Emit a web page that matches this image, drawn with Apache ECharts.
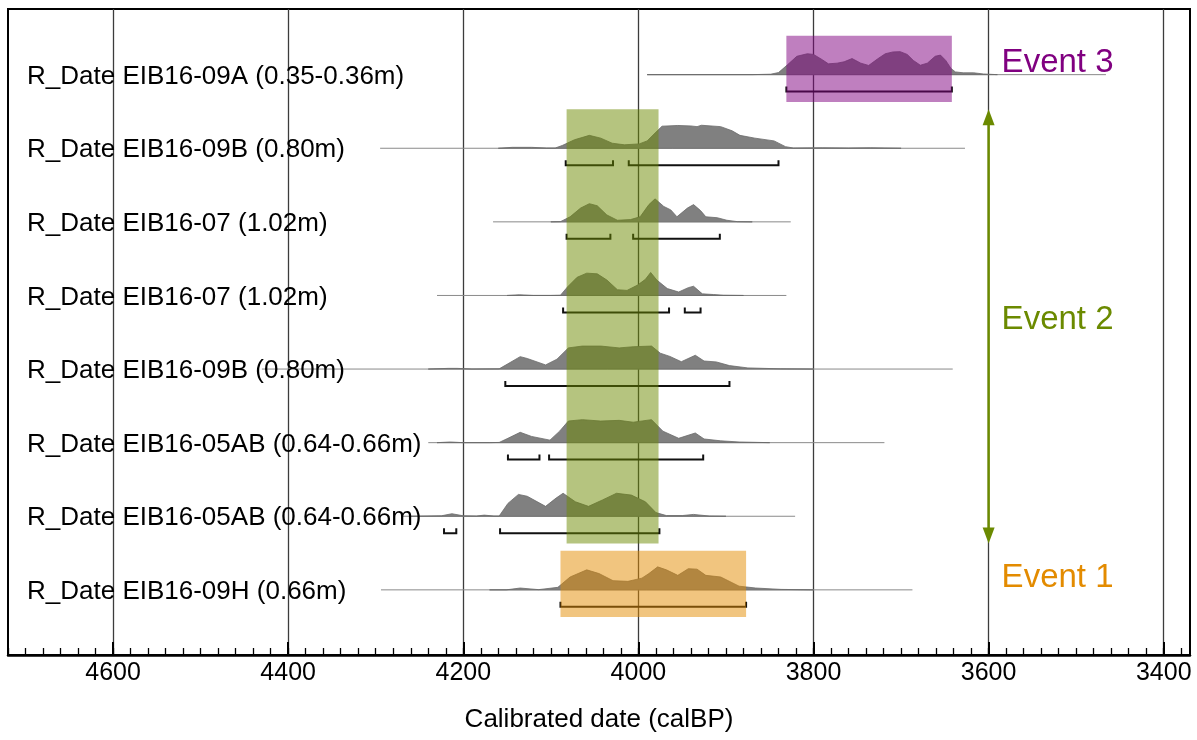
<!DOCTYPE html>
<html>
<head>
<meta charset="utf-8">
<script src="https://cdn.jsdelivr.net/npm/echarts@6/dist/echarts.min.js"></script>
<style>
  html, body { margin: 0; padding: 0; background: #fff; }
  #chart { width: 1197px; height: 740px; }
</style>
</head>
<body>
<div id="chart"></div>
<script>
// rows, top to bottom
const rowLabels = [
  'R_Date EIB16-09A (0.35-0.36m)',
  'R_Date EIB16-09B (0.80m)',
  'R_Date EIB16-07 (1.02m)',
  'R_Date EIB16-07 (1.02m)',
  'R_Date EIB16-09B (0.80m)',
  'R_Date EIB16-05AB (0.64-0.66m)',
  'R_Date EIB16-05AB (0.64-0.66m)',
  'R_Date EIB16-09H (0.66m)'
]

// probability curves: [calBP, relative prob (peak = 100)]
const dens09A = [[3990,0],[3870,0],[3849,2],[3840,9],[3830,42],[3819,80],[3807,91],[3800,88],[3790,65],[3783,47],[3773,50],[3765,56],[3756,70],[3746,50],[3737,40],[3727,68],[3718,91],[3709,99],[3701,100],[3693,88],[3686,62],[3678,41],[3670,50],[3661,80],[3655,85],[3649,62],[3643,27],[3638,12],[3629,8],[3617,8],[3606,3],[3590,0]]
const dens09B_a = [[4160,0],[4144,4],[4122,4],[4105,1],[4095,1],[4087,12],[4073,37],[4056,56],[4043,44],[4030,22],[4016,15],[3999,19],[3990,32],[3981,66],[3973,96],[3955,99],[3940,97],[3933,94],[3928,100],[3906,94],[3893,76],[3884,56],[3867,44],[3845,32],[3832,7],[3823,1],[3790,2],[3760,1],[3735,2],[3700,0]]
const dens07_a = [[4100,0],[4089,1],[4078,22],[4066,60],[4056,79],[4047,70],[4036,30],[4024,7],[4009,10],[3998,22],[3988,75],[3981,100],[3971,67],[3963,52],[3956,22],[3944,60],[3937,75],[3929,49],[3923,22],[3910,18],[3899,7],[3887,1],[3870,0]]
const dens07_b = [[4150,0],[4136,3],[4120,0],[4100,0],[4089,1],[4081,37],[4070,79],[4059,97],[4047,94],[4036,67],[4024,25],[4013,22],[4001,45],[3992,70],[3986,100],[3979,67],[3967,30],[3954,15],[3943,34],[3937,40],[3927,7],[3914,4],[3903,1],[3880,0]]
const dens09B_b = [[4240,0],[4217,3],[4207,3],[4190,0],[4159,1],[4149,23],[4135,54],[4127,46],[4106,18],[4093,43],[4080,92],[4064,100],[4043,100],[4022,92],[4006,97],[3985,100],[3975,69],[3964,55],[3951,32],[3935,60],[3925,35],[3911,31],[3896,15],[3875,5],[3838,1],[3800,0]]
const dens05AB_a = [[4230,0],[4215,3],[4200,0],[4170,0],[4159,1],[4149,19],[4135,45],[4122,27],[4101,11],[4090,50],[4080,94],[4064,100],[4043,94],[4022,97],[4006,89],[3985,100],[3972,50],[3954,19],[3935,42],[3925,16],[3906,8],[3885,3],[3850,0]]
const dens05AB_b = [[4260,0],[4225,2],[4213,11],[4200,2],[4185,1],[4176,5],[4165,1],[4159,1],[4149,56],[4137,95],[4127,87],[4106,43],[4094,79],[4086,100],[4072,63],[4057,43],[4041,71],[4025,100],[4008,92],[3992,63],[3980,16],[3968,3],[3950,3],[3937,8],[3919,1],[3900,0]]
const dens09H = [[4170,0],[4151,0],[4135,8],[4114,1],[4092,11],[4078,56],[4059,87],[4045,71],[4029,40],[4012,37],[3996,51],[3988,71],[3978,100],[3968,87],[3955,63],[3943,92],[3933,90],[3923,63],[3906,56],[3885,16],[3866,8],[3837,2],[3800,0]]
const densities = [dens09A, dens09B_a, dens07_a, dens07_b, dens09B_b, dens05AB_a, dens05AB_b, dens09H]

// extent of the thin base line of each row
const lineSpans = [[3990,3466],[4295,3627],[4166,3826],[4230,3831],[4430,3641],[4240,3719],[4270,3821],[4294,3687]]

// 95.4% ranges drawn as brackets under each curve
const hpdRanges = [
  [[3831,3642]],
  [[4083,4029],[4011,3840]],
  [[4082,4032],[4006,3907]],
  [[4086,3965],[3947,3929]],
  [[4152,3896]],
  [[4149,4113],[4102,3926]],
  [[4222,4208],[4158,3976]],
  [[4089,3877]]
]

// events: shaded spans
const eventNames = ['Event 3', 'Event 2', 'Event 1']
const eventRanges = [[3831,3642],[4082,3977],[4089,3877]]
const eventRows = [[0,0],[1,6],[7,7]]
const eventColors = ['#800080', '#6b8a00', '#e38b00']
const arrowYear = 3600

const majorTicks = [4600, 4400, 4200, 4000, 3800, 3600, 3400]
const minorTicks = []
for (let v = 3380; v <= 4720; v += 20) minorTicks.push(v)

const FONT = '"Liberation Sans", Arial, sans-serif'
const PEAK = 0.3125        // curve height for 100, in row units
const BRACKET = 0.23       // bracket offset under base line
const rowBase = i => rowLabels.length - 1 - i

const chart = echarts.init(document.getElementById('chart'))

function renderRow(params, api) {
  const i = api.value(0)
  const base = rowBase(i)
  const d = densities[i]
  const pts = d.map(p => api.coord([p[0], base + p[1] / 100 * PEAK]))
  const a0 = api.coord([d[0][0], base])
  const a1 = api.coord([d[d.length - 1][0], base])
  const l0 = api.coord([lineSpans[i][0], base])
  const l1 = api.coord([lineSpans[i][1], base])
  const children = [
    { type: 'line', shape: { x1: l0[0], y1: l0[1], x2: l1[0], y2: l1[1] },
      style: { stroke: '#8a8a8a', lineWidth: 1 } },
    { type: 'polygon', shape: { points: [a0].concat(pts, [a1]) },
      style: { fill: '#808080', stroke: '#6a6a6a', lineWidth: 0.8 } }
  ]
  hpdRanges[i].forEach(r => {
    const b0 = api.coord([r[0], base - BRACKET])
    const b1 = api.coord([r[1], base - BRACKET])
    children.push({
      type: 'polyline',
      shape: { points: [[b0[0], b0[1] - 5], b0, b1, [b1[0], b1[1] - 5]] },
      style: { stroke: '#111', lineWidth: 2, fill: null }
    })
  })
  children.push({
    type: 'text',
    style: { text: rowLabels[i], x: params.coordSys.x + 19, y: l0[1] + 2,
      fontSize: 26, fontFamily: FONT, fill: '#000', verticalAlign: 'middle' }
  })
  return { type: 'group', children: children }
}

function renderEvent(params, api) {
  const k = api.value(0)
  const r = eventRanges[k]
  const p0 = api.coord([r[0], rowBase(eventRows[k][0]) + 0.53])
  const p1 = api.coord([r[1], rowBase(eventRows[k][1]) - 0.37])
  const x = Math.min(p0[0], p1[0]), y = Math.min(p0[1], p1[1])
  const h = Math.abs(p1[1] - p0[1])
  const ax = api.coord([arrowYear, 0])[0]
  const children = [{
    type: 'rect',
    shape: { x: x, y: y, width: Math.abs(p1[0] - p0[0]), height: h },
    style: { fill: eventColors[k], opacity: 0.5 }
  }]
  if (eventRows[k][0] !== eventRows[k][1]) {
    // double arrow across the event rows
    children.push(
      { type: 'line', shape: { x1: ax, y1: y + 10, x2: ax, y2: y + h - 10 },
        style: { stroke: eventColors[k], lineWidth: 2.5 } },
      { type: 'polygon', shape: { points: [[ax, y], [ax - 6, y + 16], [ax + 6, y + 16]] },
        style: { fill: eventColors[k] } },
      { type: 'polygon', shape: { points: [[ax, y + h], [ax - 6, y + h - 16], [ax + 6, y + h - 16]] },
        style: { fill: eventColors[k] } }
    )
  }
  children.push({
    type: 'text',
    style: { text: eventNames[k], x: ax + 13, y: y + h / 2 - 6,
      fontSize: 33, fontFamily: FONT, fill: eventColors[k], verticalAlign: 'middle' }
  })
  return { type: 'group', children: children }
}

const xBase = {
  type: 'value',
  min: 3370,
  max: 4720,
  inverse: true,
  position: 'bottom',
  gridIndex: 0
}

chart.setOption({
  animation: false,
  backgroundColor: '#fff',
  grid: {
    left: 8, right: 7, top: 9, bottom: 85,
    containLabel: false,
    outerBoundsMode: 'none',
    show: true, borderColor: '#000', borderWidth: 2, backgroundColor: 'transparent'
  },
  xAxis: [
    Object.assign({}, xBase, {
      name: 'Calibrated date (calBP)',
      nameLocation: 'middle',
      nameGap: 52,
      nameTextStyle: { fontSize: 26, fontFamily: FONT, color: '#000' },
      axisLine: { show: true, onZero: false, lineStyle: { color: '#000', width: 2.5 } },
      axisTick: { show: true, inside: true, length: 13, customValues: majorTicks,
        lineStyle: { color: '#000', width: 2 } },
      axisLabel: { customValues: majorTicks, fontSize: 25, fontFamily: FONT,
        color: '#000', margin: 6, formatter: v => String(v) },
      splitLine: { show: true, lineStyle: { color: '#3c3c3c', width: 1.3 } }
    }),
    Object.assign({}, xBase, {
      axisLine: { show: false, onZero: false },
      axisTick: { show: true, inside: true, length: 7, customValues: minorTicks,
        lineStyle: { color: '#000', width: 1.3 } },
      axisLabel: { show: false },
      splitLine: { show: false }
    })
  ],
  yAxis: {
    type: 'value',
    min: -0.885,
    max: 7.892,
    show: false,
    splitLine: { show: false }
  },
  series: [
    {
      type: 'custom',
      xAxisIndex: 0,
      z: 3,
      renderItem: renderRow,
      data: rowLabels.map((_, i) => [i])
    },
    {
      type: 'custom',
      xAxisIndex: 0,
      z: 5,
      renderItem: renderEvent,
      data: eventNames.map((_, k) => [k])
    }
  ]
})
</script>
</body>
</html>
